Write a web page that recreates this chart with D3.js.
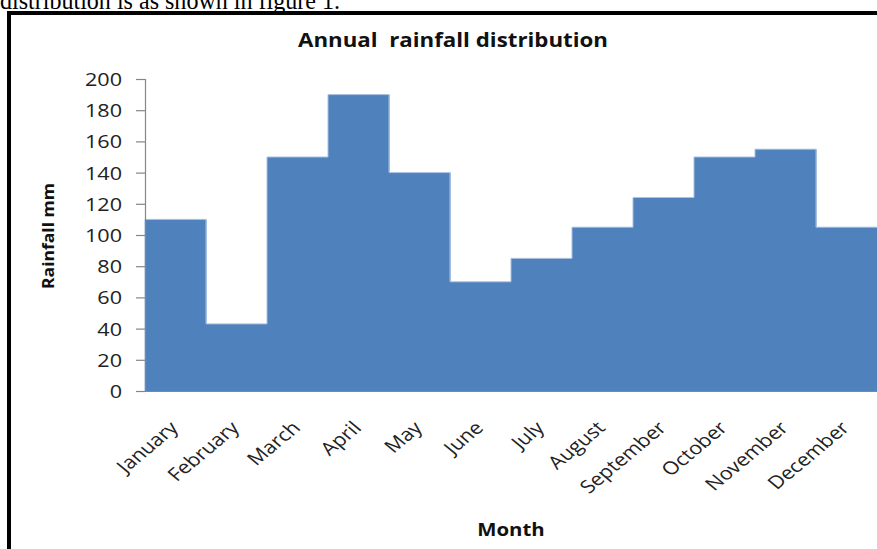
<!DOCTYPE html>
<html>
<head>
<meta charset="utf-8">
<script src="https://cdn.jsdelivr.net/npm/d3@7"></script>
<style>
  html, body { margin: 0; padding: 0; background: #fff; }
  svg { display: block; }
</style>
</head>
<body>
<svg id="chart" width="877" height="549"></svg>
<script>
// Monthly rainfall (mm)
const months = ["January", "February", "March", "April", "May", "June",
                "July", "August", "September", "October", "November", "December"];
const rainfall = [110, 43, 150, 190, 140, 70, 85, 105, 124, 150, 155, 105];
const yTicks = [0, 20, 40, 60, 80, 100, 120, 140, 160, 180, 200];

const svg = d3.select("#chart");
const W = 877, H = 549;
const plot = { left: 145, right: 877, top: 79, bottom: 391 };
const sx = 1.2; // horizontal stretch of the chart lettering

// Caption line above the figure (partly cut off at the top edge)
svg.append("text")
  .attr("x", 0).attr("y", 9)
  .attr("font-family", "Liberation Serif, serif")
  .attr("font-size", 25)
  .attr("textLength", 340)
  .attr("lengthAdjust", "spacingAndGlyphs")
  .attr("fill", "#000")
  .text("distribution is as shown in figure 1.");

// Figure frame
svg.append("path")
  .attr("d", `M9,${H} L9,13 L${W},13`)
  .attr("fill", "none")
  .attr("stroke", "#000")
  .attr("stroke-width", 4);

const x = d3.scaleBand().domain(months).range([plot.left, plot.right]).padding(0);
const y = d3.scaleLinear().domain([0, 200]).range([plot.bottom, plot.top]);
const data = months.map((m, i) => ({ m, v: rainfall[i] }));

// Bars (touching, no gaps)
svg.append("g")
  .selectAll("rect")
  .data(data)
  .join("rect")
  .attr("x", d => x(d.m))
  .attr("y", d => y(d.v))
  .attr("width", x.bandwidth() + 0.5)
  .attr("height", d => y(0) - y(d.v))
  .attr("fill", "#4F81BD");

// Light outline along the stepped top edge of the bars
const stepPts = [];
data.forEach(d => {
  stepPts.push([x(d.m), y(d.v)]);
  stepPts.push([x(d.m) + x.bandwidth(), y(d.v)]);
});
svg.append("path")
  .attr("d", `M${plot.left},${y(0)} L` + stepPts.map(p => p.join(",")).join(" L"))
  .attr("fill", "none")
  .attr("stroke", "#a9c0e0")
  .attr("stroke-width", 1);

// Y axis
const yAxis = svg.append("g")
  .attr("transform", `translate(${plot.left},0)`)
  .call(d3.axisLeft(y).tickValues(yTicks).tickSize(9).tickPadding(0).tickFormat(d3.format("d")));
yAxis.select(".domain").attr("stroke", "#868686").attr("stroke-width", 1.2);
yAxis.selectAll(".tick line").attr("stroke", "#868686").attr("stroke-width", 1.2);
yAxis.selectAll(".tick text").remove();
yAxis.selectAll(".tick")
  .append("text")
  .attr("transform", `translate(-23,0) scale(${sx},1)`)
  .attr("dy", "0.36em")
  .attr("text-anchor", "end")
  .attr("font-family", "Open Sans, sans-serif")
  .attr("font-size", 18)
  .attr("fill", "#222")
  .text(d => d);

// X axis
const xAxis = svg.append("g")
  .attr("transform", `translate(0,${plot.bottom})`)
  .call(d3.axisBottom(x).tickSize(0).tickFormat(""));
xAxis.select(".domain").attr("stroke", "#868686").attr("stroke-width", 1.2);
xAxis.selectAll(".tick")
  .append("text")
  .attr("transform", `translate(4,38) scale(${sx},1) rotate(-45)`)
  .attr("text-anchor", "end")
  .attr("font-family", "Open Sans, sans-serif")
  .attr("font-size", 18)
  .attr("fill", "#222")
  .text(d => d);

// Title
svg.append("text")
  .attr("x", 453).attr("y", 47)
  .attr("text-anchor", "middle")
  .attr("font-family", "Open Sans, sans-serif")
  .attr("font-weight", "bold")
  .attr("font-size", 20)
  .attr("textLength", 310)
  .attr("lengthAdjust", "spacingAndGlyphs")
  .attr("fill", "#111")
  .attr("xml:space", "preserve")
  .text("Annual  rainfall distribution");

// Axis titles
svg.append("text")
  .attr("transform", `translate(54,236) rotate(-90)`)
  .attr("text-anchor", "middle")
  .attr("font-family", "Open Sans, sans-serif")
  .attr("font-weight", "bold")
  .attr("font-size", 16)
  .attr("textLength", 106)
  .attr("lengthAdjust", "spacingAndGlyphs")
  .attr("fill", "#111")
  .text("Rainfall mm");

svg.append("text")
  .attr("transform", `translate(${(plot.left + plot.right) / 2},536) scale(${sx},1)`)
  .attr("text-anchor", "middle")
  .attr("font-family", "Open Sans, sans-serif")
  .attr("font-weight", "bold")
  .attr("font-size", 17)
  .attr("fill", "#111")
  .text("Month");
</script>
</body>
</html>
